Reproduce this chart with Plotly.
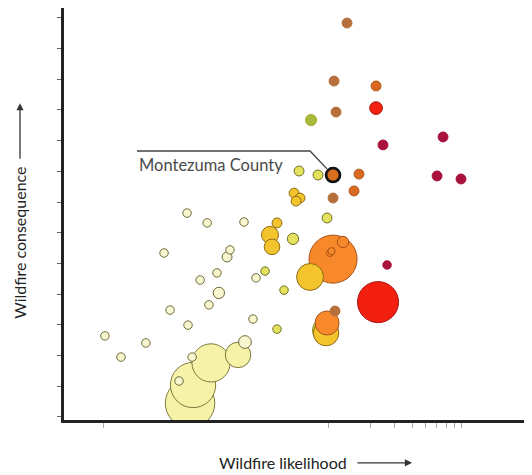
import math
import plotly.graph_objects as go

# county-level wildfire risk: likelihood (x, log), consequence (y), exposure (bubble area)
likelihood = [0.0255, 0.0332, 0.050, 0.0674, 0.0744, 0.0984, 0.100, 0.107, 0.0862, 0.122,
              0.137, 0.141, 0.161, 0.166, 0.190, 0.1995, 0.251, 0.291, 0.255, 0.306,
              0.1034, 0.1086, 0.146, 0.2276,
              0.355, 0.621, 0.848, 0.485, 0.432, 0.562, 0.984,
              0.572, 0.631, 0.591, 0.432, 0.385, 0.398, 0.744, 0.955, 0.968,
              1.086, 1.033, 1.060, 1.279, 0.984, 1.664, 1.534,
              1.086,
              1.367, 1.104, 1.141, 1.086, 1.122, 2.203,
              2.203, 2.276,
              6.63, 2.47, 6.01, 8.91, 2.64,
              0.756]
consequence = [2.74, 2.05, 2.51, 5.44, 3.58, 6.74, 3.09, 2.05, 1.27, 4.56,
               6.42, 3.75, 4.79, 4.14, 5.31, 5.54, 6.45, 3.29, 2.54, 4.63,
               0.55, 1.14, 1.86, 2.12,
               4.85, 8.11, 7.98, 4.23, 2.96, 5.90, 6.58,
               7.39, 7.23, 7.13, 6.42, 6.03, 5.64, 4.66, 2.92, 2.83,
               5.24, 5.44, 5.50, 5.80, 3.16, 8.01, 7.46,
               7.98,
               12.93, 11.04, 10.03, 7.23, 3.55, 10.88,
               10.16, 3.84,
               9.22, 8.96, 7.95, 7.85, 5.05,
               9.77]
exposure = [36, 36, 36, 36, 36, 36, 36, 36, 36, 36,
            36, 36, 36, 64, 49, 36, 36, 36, 81, 36,
            1225, 1024, 729, 324,
            36, 49, 49, 36, 36, 64, 49,
            49, 49, 49, 49, 144, 121, 361, 324, 324,
            1156, 25, 25, 64, 289, 49, 49,
            64,
            49, 49, 49, 49, 49, 49,
            81, 841,
            49, 49, 49, 49, 36,
            64]
risk_class = (["faint"] * 20 + ["pale"] * 4 + ["lime"] * 7 + ["yellow"] * 7 + ["green", "yellow"]
              + ["orange"] * 5 + ["rust", "rust"] + ["montezuma"]
              + ["brown"] * 5 + ["rust"] + ["red"] * 2 + ["crimson"] * 5 + ["olive"])

highlight = "Montezuma County"
highlight_idx = risk_class.index("montezuma")
x_ticks = [0.025, 1, 2, 3, 4, 5, 6, 7, 8, 9]
y_ticks = [0.1 + k for k in range(14)]

fills = {"faint": "#f9f7cf", "pale": "#f6f3a8", "lime": "#e4e25c", "yellow": "#f4c42c",
         "green": "#c3cc3e", "orange": "#f8892a", "rust": "#d8691f", "montezuma": "#d8701e",
         "brown": "#b5703c", "red": "#f4200f", "crimson": "#a8123c", "olive": "#a9b83a"}
edges = {"faint": "#6c6a3a", "pale": "#7c7a3e", "lime": "#6f6f2a", "yellow": "#8f6c14",
         "green": "#7d8a22", "orange": "#a8521a", "rust": "#b0561a", "montezuma": "#b0561a",
         "brown": "#b5703c", "red": "#a81410", "crimson": "#a8123c", "olive": "#a9b83a"}

order = sorted(range(len(likelihood)), key=lambda i: -exposure[i])

fig = go.Figure()
fig.add_trace(go.Scatter(
    x=[likelihood[i] for i in order], y=[consequence[i] for i in order],
    mode="markers", hoverinfo="skip", showlegend=False,
    marker=dict(size=[exposure[i] for i in order], sizemode="area", sizeref=1,
                color=[fills[risk_class[i]] for i in order], opacity=1,
                line=dict(width=1, color=[edges[risk_class[i]] for i in order]))))

# ring and leader for the highlighted county
hx, hy = likelihood[highlight_idx], consequence[highlight_idx]
fig.add_trace(go.Scatter(
    x=[hx], y=[hy], mode="markers", hoverinfo="skip", showlegend=False,
    marker=dict(symbol="circle-open", size=14, color="#111", line=dict(width=2.6))))
lead_x = [0.0432, 0.744, hx * 0.905]
lead_y = [8.76, 8.76, hy + 0.2]
fig.add_trace(go.Scatter(x=lead_x, y=lead_y, mode="lines", hoverinfo="skip",
                         showlegend=False, line=dict(color="#444", width=1.4)))
fig.add_annotation(x=math.log10(lead_x[0]), y=8.3, xref="x", yref="y", text=highlight,
                   showarrow=False, xanchor="left", yanchor="middle",
                   font=dict(size=16.5, color="#4a4a4a"))

# axis titles with arrows
fig.add_annotation(x=0.467, y=-0.104, xref="paper", yref="paper", text="Wildfire likelihood",
                   showarrow=False, xanchor="center", yanchor="middle",
                   font=dict(size=16, color="#222"))
fig.add_annotation(x=0.7436, y=-0.104, xref="paper", yref="paper", text="",
                   showarrow=True, ax=-56, ay=0, arrowhead=2, arrowsize=1.1,
                   arrowwidth=1.3, arrowcolor="#333")
fig.add_annotation(x=-0.094, y=0.43, xref="paper", yref="paper", text="Wildfire consequence",
                   showarrow=False, textangle=-90, xanchor="center", yanchor="middle",
                   font=dict(size=16, color="#222"))
fig.add_annotation(x=-0.094, y=0.769, xref="paper", yref="paper", text="",
                   showarrow=True, ax=0, ay=57, arrowhead=2, arrowsize=1.1,
                   arrowwidth=1.3, arrowcolor="#333")

fig.update_xaxes(type="log", range=[-1.886, 1.457], showgrid=False, zeroline=False,
                 showline=True, linecolor="#222", linewidth=2.5, ticks="outside",
                 ticklen=5, tickcolor="#aaa", tickvals=x_ticks, showticklabels=False)
fig.update_yaxes(range=[0, 13.42], showgrid=False, zeroline=False,
                 showline=True, linecolor="#222", linewidth=2.5, ticks="outside",
                 ticklen=4, tickcolor="#666", tickvals=y_ticks, showticklabels=False)
# page body adds an 8px offset, so the figure is sized to fill the rest of the window
fig.update_layout(width=524, height=467, margin=dict(l=56, r=0, t=0, b=55),
                  plot_bgcolor="white", paper_bgcolor="white",
                  font=dict(family="Lato, sans-serif"))
fig.write_html("out.html")
